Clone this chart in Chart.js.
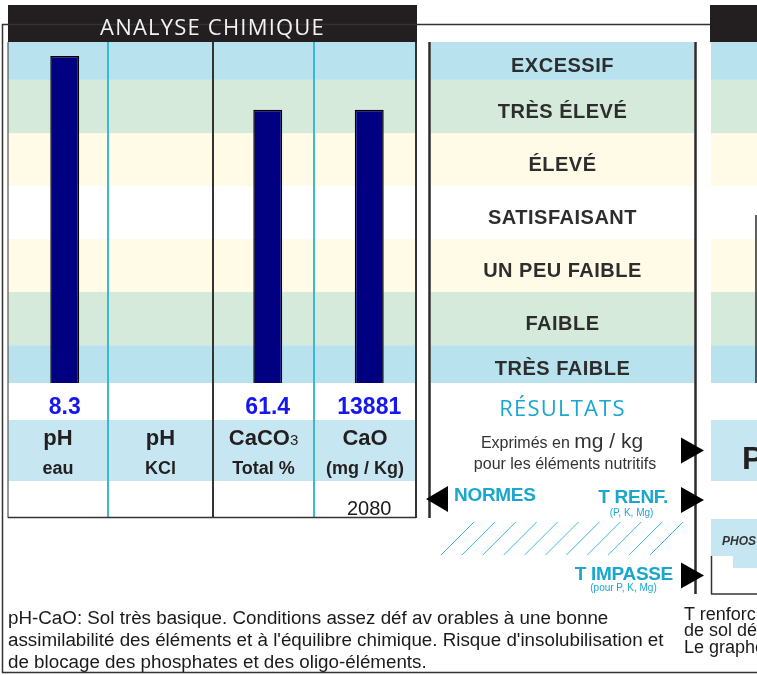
<!DOCTYPE html>
<html><head><meta charset="utf-8">
<script src="https://cdn.jsdelivr.net/npm/chart.js@4/dist/chart.umd.min.js"></script>
<style>
html,body{margin:0;padding:0;background:#fff;}
#wrap{position:relative;width:757px;height:675px;overflow:hidden;background:#fff;}
#c{position:absolute;left:0;top:0;}
.t{position:absolute;white-space:nowrap;font-family:"Liberation Sans",Arial,sans-serif;}
</style></head><body>
<div id="wrap"><canvas id="c" width="757" height="675"></canvas></div>
<script>
// ---- data ----
const categoryNames = ['pH', 'pH', 'CaCO3', 'CaO'];
const categoryUnits = ['eau', 'KCl', 'Total %', '(mg / Kg)'];
const measuredLabels = ['8.3', '', '61.4', '13881'];
const barPositions = [95.9, null, 80.1, 80.1];   // position on the 0-100 level index
const normLabels = ['', '', '', '2080'];
const levelNames = ['TRÈS FAIBLE', 'FAIBLE', 'UN PEU FAIBLE', 'SATISFAISANT', 'ÉLEVÉ', 'TRÈS ÉLEVÉ', 'EXCESSIF'];
const levelEdges = [0, 11.1, 26.7, 42.2, 57.8, 73.3, 88.9, 100];
const levelColors = ['#b8e2ee', '#d5eadb', '#fffbe6', '#ffffff', '#fffbe6', '#d5eadb', '#b8e2ee'];
const commentLines = [
  "pH-CaO: Sol très basique. Conditions assez déf av orables à une bonne",
  "assimilabilité des éléments et à l'équilibre chimique. Risque d'insolubilisation et",
  "de blocage des phosphates et des oligo-éléments."
];
const sideLines = ['T renforc', 'de sol dé', 'Le graphe'];

// ---- layout (not data) ----
const COL_EDGES = [8, 108, 213, 314, 416];
const CYAN = '#3cb8d6', CYAN_TXT = '#19a7cf', DARK = '#2b2b2b';

function line(ctx, x1, y1, x2, y2, col, w) {
  ctx.beginPath(); ctx.strokeStyle = col; ctx.lineWidth = w;
  ctx.moveTo(x1, y1); ctx.lineTo(x2, y2); ctx.stroke();
}
function tri(ctx, pts) {
  ctx.beginPath(); ctx.fillStyle = '#000';
  ctx.moveTo(pts[0][0], pts[0][1]); ctx.lineTo(pts[1][0], pts[1][1]); ctx.lineTo(pts[2][0], pts[2][1]);
  ctx.closePath(); ctx.fill();
}

const decor = {
  id: 'decor',
  beforeDatasetsDraw(chart) {
    const ctx = chart.ctx, ys = chart.scales.y;
    const L = COL_EDGES[0], R = COL_EDGES[COL_EDGES.length - 1];
    ctx.save();
    // headers
    ctx.fillStyle = '#231f20';
    ctx.fillRect(8, 5, 409, 37);
    ctx.fillRect(710, 5, 47, 37);
    // outer frame
    line(ctx, 2, 24.5, 710, 24.5, '#333', 1.5);
    line(ctx, 2.5, 24, 2.5, 673, '#333', 1.5);
    line(ctx, 2, 672.5, 757, 672.5, '#333', 1.5);
    // level bands
    const panels = [[L, R], [431, 694], [711, 757]];
    for (let i = 0; i < levelNames.length; i++) {
      const yt = ys.getPixelForValue(levelEdges[i + 1]), yb = ys.getPixelForValue(levelEdges[i]);
      ctx.fillStyle = levelColors[i];
      panels.forEach(([l, r]) => ctx.fillRect(l, yt, r - l, yb - yt));
    }
    // label row
    ctx.fillStyle = '#c6e7f1';
    ctx.fillRect(L, 420, R - L, 61);
    // column separators
    const st = [['#555', 1.2], [CYAN, 2], ['#333', 2], [CYAN, 2], ['#333', 2]];
    COL_EDGES.forEach((xk, k) => line(ctx, xk, 42, xk, 518, st[k][0], st[k][1]));
    line(ctx, L, 517.5, R, 517.5, '#333', 1.5);
    // middle panel borders
    line(ctx, 429.5, 42, 429.5, 518, DARK, 2.5);
    line(ctx, 695.5, 42, 695.5, 594, DARK, 2.5);
    // right panel
    line(ctx, 756, 215, 756, 383, DARK, 1.5);
    ctx.fillStyle = '#c6e7f1';
    ctx.fillRect(711, 420, 46, 61);
    ctx.fillRect(711, 519, 46, 37);
    line(ctx, 711.5, 556, 711.5, 594, '#333', 1.5);
    line(ctx, 711, 594, 757, 594, '#333', 1.5);
    ctx.fillStyle = '#c6e7f1';
    ctx.fillRect(733, 556, 24, 12);
    // arrows
    tri(ctx, [[426, 499], [448, 486], [448, 512]]);
    [450.5, 500, 575.5].forEach(c => tri(ctx, [[704, c], [681, c - 13], [681, c + 13]]));
    // hatching
    for (let k = 0; k < 11; k++) {
      const x0 = 441 + 20.9 * k;
      line(ctx, x0, 555, x0 + 33, 522, CYAN, 1);
    }
    ctx.restore();
  }
};

const chart = new Chart(document.getElementById('c'), {
  type: 'bar',
  data: {
    labels: categoryNames,
    datasets: [{
      data: barPositions,
      backgroundColor: '#000080',
      borderColor: '#000',
      borderWidth: 1.5,
      barPercentage: 0.285,
      categoryPercentage: 1
    }]
  },
  options: {
    responsive: false,
    animation: false,
    devicePixelRatio: 1,
    layout: { padding: { left: 14, right: 337, top: 42, bottom: 292 } },
    plugins: { legend: { display: false }, tooltip: { enabled: false } },
    scales: {
      x: { display: false, offset: true },
      y: { display: false, min: 0, max: 100 }
    }
  },
  plugins: [decor]
});

// ---- text ----
const wrap = document.getElementById('wrap');
function txt(s, x, base, o) {
  const fs = o.size;
  const k = o.open ? 0.888 : 0.8465;
  const d = document.createElement('div');
  d.className = 't';
  if (o.open) d.style.fontFamily = '"Open Sans",sans-serif';
  d.style.fontSize = fs + 'px';
  d.style.lineHeight = fs + 'px';
  d.style.top = (base - k * fs) + 'px';
  d.style.fontWeight = o.bold ? 'bold' : 'normal';
  if (o.italic) d.style.fontStyle = 'italic';
  d.style.color = o.color || '#231f20';
  if (o.ls) d.style.letterSpacing = o.ls + 'px';
  const al = o.align || 'center';
  if (al === 'center') { d.style.left = (x - 400) + 'px'; d.style.width = '800px'; d.style.textAlign = 'center'; }
  else if (al === 'right') { d.style.left = (x - 800) + 'px'; d.style.width = '800px'; d.style.textAlign = 'right'; }
  else d.style.left = x + 'px';
  d.innerHTML = s;
  wrap.appendChild(d);
}
const esc = s => s.replace(/&/g, '&amp;').replace(/</g, '&lt;');

txt('ANALYSE CHIMIQUE', 212.5, 35, { size: 22, open: true, color: '#f2f2f2', ls: 1.2 });

const xs = chart.scales.x, ys = chart.scales.y;
levelNames.forEach((nm, i) => {
  const c = (ys.getPixelForValue(levelEdges[i]) + ys.getPixelForValue(levelEdges[i + 1])) / 2;
  txt(esc(nm), 562.5, c + 11.2, { size: 20, bold: true, color: '#2d2d2d', ls: 0.5 });
});
categoryNames.forEach((nm, i) => {
  const bx = xs.getPixelForValue(i);
  const cx = (COL_EDGES[i] + COL_EDGES[i + 1]) / 2;
  if (measuredLabels[i]) txt(measuredLabels[i], bx, 414, { size: 23, bold: true, color: '#1616f0' });
  const main = esc(nm).replace(/(\d+)$/, '<span style="font-size:15px;font-weight:normal">$1</span>');
  txt(main, cx, 445.7, { size: 22, bold: true });
  txt(esc(categoryUnits[i]), cx, 474, { size: 18, bold: true });
  if (normLabels[i]) txt(normLabels[i], bx, 515, { size: 20, color: '#1a1a1a' });
});

txt('RÉSULTATS', 562.5, 415.5, { size: 22, open: true, color: CYAN_TXT, ls: 1.2 });
txt('Exprimés en <span style="font-size:21px">mg / kg</span>', 562, 446.5, { size: 16, color: '#333' });
txt('pour les éléments nutritifs', 565, 470, { size: 16, color: '#333' });
txt('NORMES', 454, 501.5, { size: 19, bold: true, color: CYAN_TXT, align: 'left', ls: -0.3 });
txt('T RENF.', 668, 503, { size: 19, bold: true, color: CYAN_TXT, align: 'right', ls: -0.3 });
txt('(P, K, Mg)', 631.5, 516, { size: 10, color: CYAN_TXT });
txt('T IMPASSE', 673, 580, { size: 19, bold: true, color: CYAN_TXT, align: 'right', ls: -0.3 });
txt('(pour P, K, Mg)', 623.5, 591, { size: 10, color: CYAN_TXT });

txt('P', 742, 469, { size: 32, bold: true, align: 'left' });
txt('PHOS', 722, 545, { size: 12, bold: true, italic: true, align: 'left', color: '#333' });

commentLines.forEach((s, i) => txt(esc(s), 8, 625 + i * 22, { size: 18.8, align: 'left', color: '#1a1a1a' }));
sideLines.forEach((s, i) => txt(esc(s), 684, 620 + i * 16.5, { size: 18, align: 'left', color: '#1a1a1a' }));
</script>
</body></html>
